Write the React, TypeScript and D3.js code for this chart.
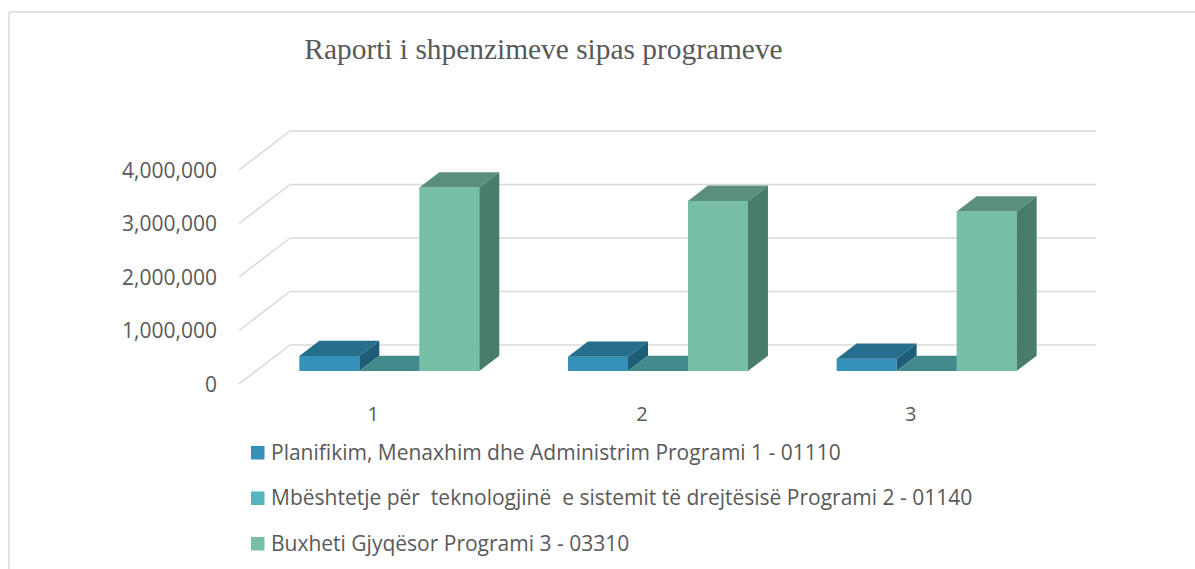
import React from "react";
import * as d3 from "d3";

const title = "Raporti i shpenzimeve sipas programeve";
const categories = ["1", "2", "3"];
const seriesNames = [
  "Planifikim, Menaxhim dhe Administrim Programi 1 - 01110",
  "Mbështetje për  teknologjinë  e sistemit të drejtësisë Programi 2 - 01140",
  "Buxheti Gjyqësor Programi 3 - 03310",
];
const series1 = [280000, 265000, 230000];
const series2 = [0, 0, 0];
const series3 = [3430000, 3180000, 2980000];
const yTicks = [0, 1000000, 2000000, 3000000, 4000000];

const seriesValues = [series1, series2, series3];
const colors = [
  { front: "#3591BA", top: "#256F8C", side: "#1F5C78", legend: "#3591BA" },
  { front: "#56B4BE", top: "#438A8D", side: "#3A767A", legend: "#56B4BE" },
  { front: "#76BEA6", top: "#5A8F7E", side: "#4A7C6A", legend: "#76BEA6" },
];

const W = 1195;
const H = 569;
const DX = 51;
const DY = -39;
const F0 = 0.333;
const F1 = 0.725;
const TEXT = "#595959";
const GRID = "#D9D9D9";

export default function App() {
  const x = d3.scaleBand<string>().domain(categories).range([238, 1044]);
  const y = d3.scaleLinear().domain([0, 4000000]).range([384, 170]);
  const groupW = 180;
  const inner = d3
    .scaleBand<number>()
    .domain([0, 1, 2])
    .range([0, groupW]);
  const fmt = d3.format(",");

  const pt = (px: number, py: number, f: number) => [px + DX * f, py + DY * f];
  const poly = (pts: number[][]) => pts.map((p) => p.join(",")).join(" ");

  const bars: React.ReactNode[] = [];
  categories.forEach((c, ci) => {
    const gx = (x(c) as number) + (x.bandwidth() - groupW) / 2;
    seriesValues.forEach((vals, si) => {
      const x0 = gx + (inner(si) as number);
      const x1 = x0 + inner.bandwidth();
      const yb = y(0);
      const yt = y(vals[ci]);
      const col = colors[si];
      const a = pt(x0, yb, F0);
      const b = pt(x1, yb, F0);
      const cT = pt(x1, yt, F0);
      const dT = pt(x0, yt, F0);
      const bT = pt(x1, yt, F1);
      const aT = pt(x0, yt, F1);
      const bB = pt(x1, yb, F1);
      bars.push(
        <g key={`${ci}-${si}`}>
          <polygon points={poly([a, b, cT, dT])} fill={col.front} />
          <polygon points={poly([dT, cT, bT, aT])} fill={col.top} />
          <polygon points={poly([b, bB, bT, cT])} fill={col.side} />
        </g>
      );
    });
  });

  return (
    <svg
      width={W}
      height={H}
      style={{ position: "absolute", left: 0, top: 0, background: "#fff" }}
    >
      <line x1={9} y1={12} x2={W} y2={12} stroke={GRID} strokeWidth={1.5} />
      <line x1={9} y1={12} x2={9} y2={H} stroke={GRID} strokeWidth={1.5} />
      <text
        x={543.5}
        y={59}
        textAnchor="middle"
        fontFamily="'Liberation Serif', 'Times New Roman', serif"
        fontSize={29.4}
        fill={TEXT}
      >
        {title}
      </text>
      {yTicks.map((t) => (
        <g key={t}>
          <line
            x1={239}
            y1={y(t)}
            x2={239 + DX}
            y2={y(t) + DY}
            stroke={GRID}
            strokeWidth={1.5}
          />
          <line
            x1={239 + DX}
            y1={y(t) + DY}
            x2={1045 + DX}
            y2={y(t) + DY}
            stroke={GRID}
            strokeWidth={1.5}
          />
          <text
            x={217}
            y={y(t)}
            dy="0.36em"
            textAnchor="end"
            fontFamily="'Open Sans', sans-serif"
            fontSize={21}
            fill={TEXT}
          >
            {fmt(t)}
          </text>
        </g>
      ))}
      {bars}
      {categories.map((c) => (
        <text
          key={c}
          x={(x(c) as number) + x.bandwidth() / 2 + 1}
          y={421}
          textAnchor="middle"
          fontFamily="'Open Sans', sans-serif"
          fontSize={20}
          fill={TEXT}
        >
          {c}
        </text>
      ))}
      {seriesNames.map((n, i) => (
        <g key={n} transform={`translate(251, ${446 + i * 45.5})`}>
          <rect width={13.5} height={13.5} fill={colors[i].legend} />
          <text
            x={20}
            y={13.5}
            fontFamily="'Open Sans', sans-serif"
            fontSize={21}
            fill={TEXT}
            style={{ whiteSpace: "pre" }}
          >
            {n}
          </text>
        </g>
      ))}
    </svg>
  );
}
